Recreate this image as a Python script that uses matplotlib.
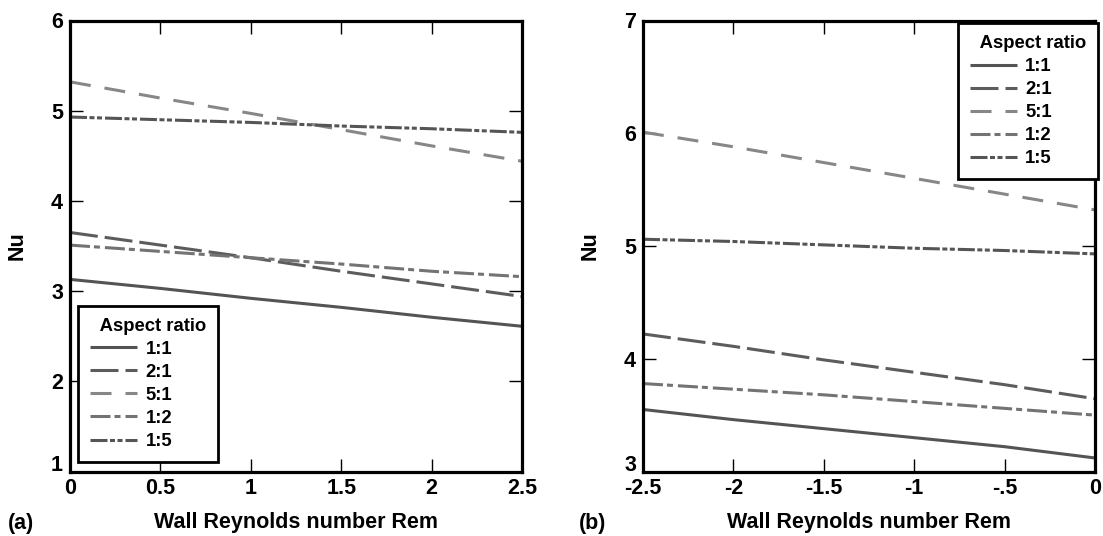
import matplotlib
matplotlib.use("Agg")
import matplotlib.pyplot as plt
import matplotlib.transforms as mtransforms

plt.rcParams['font.family'] = ['Liberation Sans', 'DejaVu Sans']
plt.rcParams['font.weight'] = 'bold'
plt.rcParams['lines.scale_dashes'] = False

# Wall Reynolds number values
rem_suction = [0, 0.5, 1, 1.5, 2, 2.5]
rem_injection = [-2.5, -2, -1.5, -1, -0.5, 0]

ratios = ['1:1', '2:1', '5:1', '1:2', '1:5']

# Nusselt number, panel (a)
nu_a = {
    '1:1': [3.13, 3.03, 2.92, 2.82, 2.71, 2.61],
    '2:1': [3.65, 3.51, 3.37, 3.22, 3.08, 2.94],
    '5:1': [5.32, 5.14, 4.97, 4.79, 4.61, 4.44],
    '1:2': [3.51, 3.44, 3.37, 3.30, 3.22, 3.16],
    '1:5': [4.93, 4.90, 4.87, 4.83, 4.80, 4.76],
}
# Nusselt number, panel (b)
nu_b = {
    '1:1': [3.55, 3.46, 3.38, 3.30, 3.22, 3.12],
    '2:1': [4.22, 4.11, 3.99, 3.88, 3.77, 3.645],
    '5:1': [6.01, 5.88, 5.74, 5.60, 5.46, 5.32],
    '1:2': [3.78, 3.73, 3.68, 3.62, 3.56, 3.50],
    '1:5': [5.06, 5.04, 5.01, 4.98, 4.96, 4.93],
}

xticks_a = [0, 0.5, 1, 1.5, 2, 2.5]
xticklabels_a = ['0', '0.5', '1', '1.5', '2', '2.5']
yticks_a = [1, 2, 3, 4, 5, 6]
xticks_b = [-2.5, -2, -1.5, -1, -0.5, 0]
xticklabels_b = ['-2.5', '-2', '-1.5', '-1', '-.5', '0']
yticks_b = [3, 4, 5, 6, 7]

colors = {'1:1': '#545454', '2:1': '#5c5c5c', '5:1': '#878787',
          '1:2': '#737373', '1:5': '#555555'}
px = 0.72
dashes = {
    '1:1': None,
    '2:1': [28 * px, 7 * px],
    '5:1': [21 * px, 14 * px],
    '1:2': [20 * px, 4 * px, 6 * px, 5 * px],
    '1:5': [17 * px, 2.5 * px, 5 * px, 2.5 * px, 5 * px, 3 * px],
}

W, H = 1103, 536
fig = plt.figure(figsize=(W / 100, H / 100), dpi=100)


def frac(l, t, r, b):
    return [l / W, 1 - b / H, (r - l) / W, (b - t) / H]


ax_a = fig.add_axes(frac(70, 20.5, 522, 471.5))
ax_b = fig.add_axes(frac(643, 20.5, 1095, 471.5))


def draw(ax, x, data):
    for r in ratios:
        line, = ax.plot(x, data[r], color=colors[r], lw=2.2, label=r,
                        solid_capstyle='butt', dash_capstyle='butt',
                        clip_on=False)
        if dashes[r] is not None:
            line.set_dashes(dashes[r])
    for s in ax.spines.values():
        s.set_linewidth(2.3)
    ax.tick_params(direction='in', length=9.5, width=1.0, top=True, right=True,
                   labelsize=15.5, pad=5)
    ax.set_xlabel('Wall Reynolds number Rem', fontsize=15.5, fontweight='bold')
    ax.set_ylabel('Nu', fontsize=15.5, fontweight='bold')
    ax.xaxis.set_label_coords(0.5, -0.113)
    ax.xaxis.label.set_va('center')
    ax.yaxis.set_label_coords(-0.116, 0.5)
    ax.yaxis.label.set_va('center')


def lift_bottom_ylabel(ax):
    # raise the lowest y tick label so it clears the first x tick label
    lab = ax.get_yticklabels()[0]
    lab.set_transform(lab.get_transform() +
                      mtransforms.ScaledTranslation(0, 6 / 72, fig.dpi_scale_trans))


draw(ax_a, rem_suction, nu_a)
ax_a.set_xlim(0, 2.5)
ax_a.set_ylim(1, 6)
ax_a.set_xticks(xticks_a)
ax_a.set_xticklabels(xticklabels_a)
ax_a.set_yticks(yticks_a)
lift_bottom_ylabel(ax_a)

draw(ax_b, rem_injection, nu_b)
ax_b.set_xlim(-2.5, 0)
ax_b.set_ylim(3, 7)
ax_b.set_xticks(xticks_b)
ax_b.set_xticklabels(xticklabels_b)
ax_b.set_yticks(yticks_b)
lift_bottom_ylabel(ax_b)


def legend(ax, anchor, loc):
    leg = ax.legend(title='  Aspect ratio', loc=loc,
                    bbox_to_anchor=anchor, bbox_transform=fig.transFigure,
                    fontsize=13.3,
                    title_fontproperties={'weight': 'bold', 'size': 13.3},
                    alignment='left',
                    frameon=True, fancybox=False, shadow=False,
                    handlelength=2.55, handletextpad=0.45, labelspacing=0.33,
                    borderpad=0.65, borderaxespad=0, framealpha=1)
    leg.get_frame().set_edgecolor('black')
    leg.get_frame().set_linewidth(2.0)
    leg.set_zorder(5)
    return leg


legend(ax_a, (78 / W, 1 - 462 / H), 'lower left')
legend(ax_b, (1098 / W, 1 - 23 / H), 'upper right')

fig.text(8 / W, 1 - 523 / H, '(a)', fontsize=15.5, fontweight='bold', va='center')
fig.text(579 / W, 1 - 523 / H, '(b)', fontsize=15.5, fontweight='bold', va='center')

fig.savefig('out.png', dpi=100)
